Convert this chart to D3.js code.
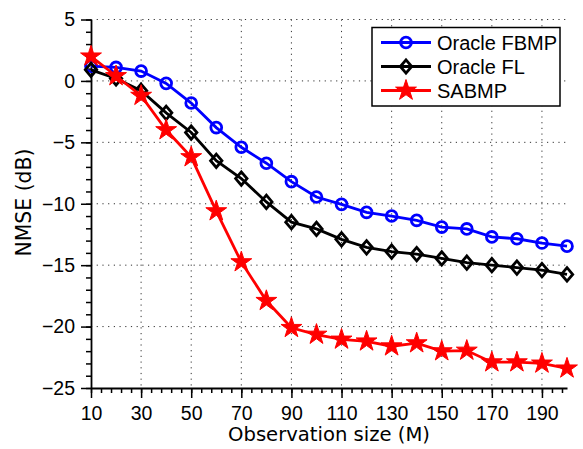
<!DOCTYPE html>
<html>
<head>
<meta charset="utf-8">
<script src="https://cdn.jsdelivr.net/npm/d3@7"></script>
<style>
  body { margin: 0; background: #fff; }
  text { font-family: "Liberation Sans", Arial, sans-serif; }
  .label { font-family: "DejaVu Sans", sans-serif; }
</style>
</head>
<body>
<div id="chart"></div>
<script>
var sizes = [10, 20, 30, 40, 50, 60, 70, 80, 90, 100, 110, 120, 130, 140, 150, 160, 170, 180, 190, 200]
var fbmp = [1.2, 1.1, 0.8, -0.2, -1.8, -3.8, -5.4, -6.7, -8.2, -9.45, -10.05, -10.7, -11.0, -11.35, -11.9, -12.05, -12.7, -12.85, -13.2, -13.45]
var fl = [0.9, 0.2, -0.8, -2.6, -4.2, -6.5, -7.95, -9.85, -11.5, -12.05, -12.9, -13.55, -13.9, -14.1, -14.45, -14.8, -15.0, -15.2, -15.4, -15.75]
var sabmp = [2.0, 0.4, -1.2, -4.0, -6.2, -10.6, -14.75, -17.9, -20.1, -20.65, -21.05, -21.2, -21.6, -21.35, -22.0, -21.95, -22.9, -22.9, -23.0, -23.4]
var xTicks = [10, 30, 50, 70, 90, 110, 130, 150, 170, 190]
var yTicks = [5, 0, -5, -10, -15, -20, -25]
var seriesNames = ["Oracle FBMP", "Oracle FL", "SABMP"]
var seriesColors = ["#0000ff", "#000000", "#ff0000"]

var width = 583, height = 449
var margin = {top: 19.5, right: 16, bottom: 61, left: 91}
var boundedWidth = width - margin.left - margin.right
var boundedHeight = height - margin.top - margin.bottom

var svg = d3.select("#chart").append("svg")
  .attr("width", width)
  .attr("height", height)

var bounds = svg.append("g")
  .attr("transform", `translate(${margin.left},${margin.top})`)

var xScale = d3.scaleLinear().domain([10, 200]).range([0, boundedWidth])
var yScale = d3.scaleLinear().domain([-25, 5]).range([boundedHeight, 0])

// dotted grid
bounds.append("g").selectAll("line")
  .data(xTicks.slice(1))
  .join("line")
  .attr("x1", d => xScale(d)).attr("x2", d => xScale(d))
  .attr("y1", 0).attr("y2", boundedHeight)
  .attr("stroke", "#333").attr("stroke-width", 1)
  .attr("stroke-dasharray", "1.2,4.5")

bounds.append("g").selectAll("line")
  .data(yTicks.slice(0, -1))
  .join("line")
  .attr("x1", 0).attr("x2", boundedWidth)
  .attr("y1", d => yScale(d)).attr("y2", d => yScale(d))
  .attr("stroke", "#333").attr("stroke-width", 1)
  .attr("stroke-dasharray", "1.2,4.5")

// axes: minor ticks first, then major with labels
var xMinor = d3.range(10, 201, 4)
var yMinor = d3.range(-25, 6, 1)

bounds.append("g")
  .attr("transform", `translate(0,${boundedHeight})`)
  .call(d3.axisBottom(xScale).tickValues(xMinor).tickSize(5).tickFormat(""))
  .call(g => g.select(".domain").remove())
  .selectAll("line").attr("stroke-width", 1.5)

bounds.append("g")
  .call(d3.axisLeft(yScale).tickValues(yMinor).tickSize(5).tickFormat(""))
  .call(g => g.select(".domain").remove())
  .selectAll("line").attr("stroke-width", 1.5)

var xAxis = bounds.append("g")
  .attr("transform", `translate(0,${boundedHeight})`)
  .call(d3.axisBottom(xScale).tickValues(xTicks).tickSize(10).tickSizeOuter(0).tickPadding(8))
xAxis.select(".domain").attr("stroke-width", 1.8)
xAxis.selectAll("line").attr("stroke-width", 1.5)
xAxis.selectAll("text").attr("font-size", 19.5).attr("fill", "#000")

var yAxis = bounds.append("g")
  .call(d3.axisLeft(yScale).tickValues(yTicks).tickSize(10).tickSizeOuter(0).tickPadding(6)
    .tickFormat(d => d < 0 ? "\u2212" + Math.abs(d) : d))
yAxis.select(".domain").attr("stroke-width", 1.8)
yAxis.selectAll("line").attr("stroke-width", 1.5)
yAxis.selectAll("text").attr("font-size", 19.5).attr("fill", "#000")

svg.append("text")
  .attr("class", "label")
  .attr("x", 329)
  .attr("y", 441)
  .attr("text-anchor", "middle")
  .attr("font-size", 19.6)
  .text("Observation size (M)")

svg.append("text")
  .attr("class", "label")
  .attr("transform", "translate(31,202.5) rotate(-90)")
  .attr("text-anchor", "middle")
  .attr("font-size", 20.4)
  .text("NMSE (dB)")

// series
var allSeries = [fbmp, fl, sabmp]
var diamond = {
  draw: function(context, size) {
    var h = Math.sqrt(size) * 0.6, w = h * 0.85
    context.moveTo(0, -h)
    context.lineTo(w, 0)
    context.lineTo(0, h)
    context.lineTo(-w, 0)
    context.closePath()
  }
}
var symbols = [d3.symbolCircle, diamond, d3.symbolStar]
var symbolSizes = [92, 125, 135]

var line = d3.line()
  .x((d, i) => xScale(sizes[i]))
  .y(d => yScale(d))

function drawMarker(g, k) {
  var sym = d3.symbol().type(symbols[k]).size(symbolSizes[k])
  var p = g.append("path").attr("d", sym)
  if (k === 2) {
    p.attr("fill", seriesColors[k]).attr("stroke", seriesColors[k]).attr("stroke-width", 1)
  } else {
    p.attr("fill", "none").attr("stroke", seriesColors[k]).attr("stroke-width", 2.8)
  }
}

allSeries.forEach(function(values, k) {
  bounds.append("path")
    .datum(values)
    .attr("d", line)
    .attr("fill", "none")
    .attr("stroke", seriesColors[k])
    .attr("stroke-width", 2.8)

  values.forEach(function(v, i) {
    var g = bounds.append("g")
      .attr("transform", `translate(${xScale(sizes[i])},${yScale(v)})`)
    drawMarker(g, k)
  })
})

// legend
var legend = svg.append("g").attr("transform", "translate(372,27.5)")
legend.append("rect")
  .attr("width", 188).attr("height", 78.5)
  .attr("fill", "#fff").attr("stroke", "#000").attr("stroke-width", 1.5)

seriesNames.forEach(function(name, k) {
  var y = 15 + k * 24
  legend.append("line")
    .attr("x1", 9).attr("x2", 59)
    .attr("y1", y).attr("y2", y)
    .attr("stroke", seriesColors[k]).attr("stroke-width", 2.8)
  var g = legend.append("g").attr("transform", `translate(34,${y})`)
  drawMarker(g, k)
  legend.append("text")
    .attr("x", 65).attr("y", y + 7)
    .attr("font-size", 20)
    .text(name)
})
</script>
</body>
</html>
